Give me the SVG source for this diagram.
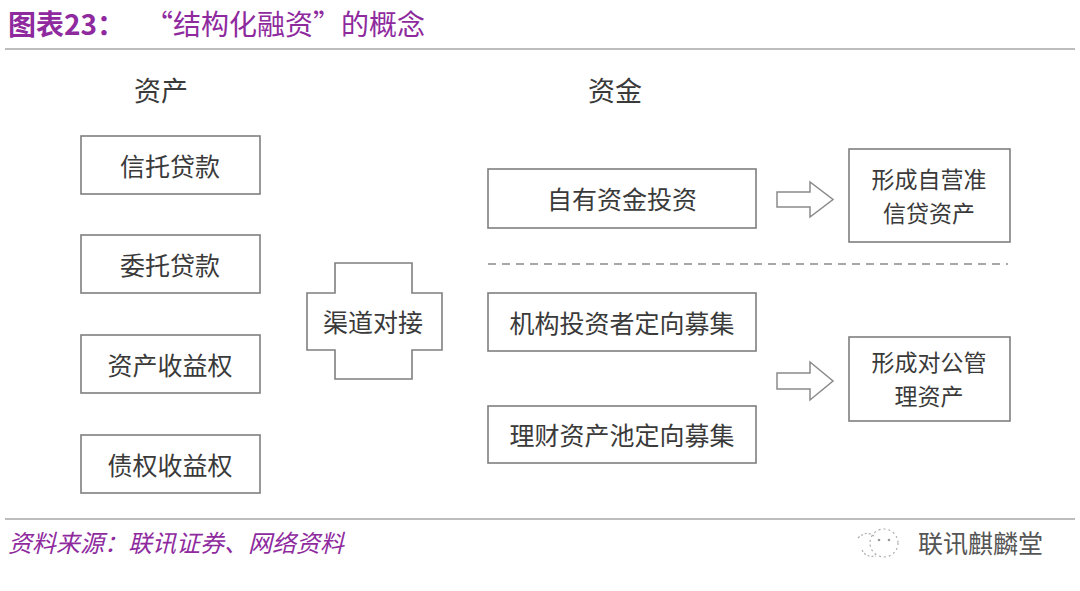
<svg xmlns="http://www.w3.org/2000/svg" width="1080" height="591" viewBox="0 0 1080 591">
<style>
.t{font-family:"Noto Sans CJK SC","Liberation Sans",sans-serif;fill:#3a3a3a;}
.box{fill:#fff;stroke:#7f7f7f;stroke-width:1.6;}
.lbl{font-size:25px;text-anchor:middle;dominant-baseline:central;}
.lbl2{font-size:23px;text-anchor:middle;}
.head{font-size:27px;text-anchor:middle;dominant-baseline:central;}
.ttl{font-family:"Noto Sans CJK SC","Liberation Sans",sans-serif;fill:#8e2a9e;font-size:28px;}
.arr{fill:#fff;stroke:#8a8a8a;stroke-width:1.5;stroke-linejoin:miter;}
</style>
<rect width="1080" height="591" fill="#fff"/>
<text class="ttl" x="8" y="35"><tspan font-weight="bold">图表23：</tspan><tspan x="145">“结构化融资”的概念</tspan></text>
<line x1="5" y1="49" x2="1075" y2="49" stroke="#bdbdbd" stroke-width="2"/>

<text class="t head" x="161" y="89">资产</text>
<text class="t head" x="615" y="89">资金</text>

<g id="n-xintuo"><rect class="box" x="81" y="136" width="179" height="58"/><text class="t lbl" x="170" y="165">信托贷款</text></g>
<g id="n-weituo"><rect class="box" x="81" y="235" width="179" height="58"/><text class="t lbl" x="170" y="264">委托贷款</text></g>
<g id="n-zichan"><rect class="box" x="81" y="335" width="179" height="58"/><text class="t lbl" x="170" y="364">资产收益权</text></g>
<g id="n-zhaiquan"><rect class="box" x="81" y="435" width="179" height="58"/><text class="t lbl" x="170" y="464">债权收益权</text></g>

<g id="n-qudao">
<path class="box" d="M335,263 H412 V293 H442 V350 H412 V379 H335 V350 H307 V293 H335 Z"/>
<text class="t lbl" x="373" y="321">渠道对接</text>
</g>

<g id="n-ziyou"><rect class="box" x="488" y="169" width="268" height="59"/><text class="t lbl" x="622" y="198">自有资金投资</text></g>
<g id="n-jigou"><rect class="box" x="488" y="293" width="268" height="58"/><text class="t lbl" x="622" y="322">机构投资者定向募集</text></g>
<g id="n-licai"><rect class="box" x="488" y="406" width="268" height="57"/><text class="t lbl" x="622" y="434">理财资产池定向募集</text></g>

<g id="n-ziying"><rect class="box" x="849" y="149" width="161" height="93"/><text class="t lbl2" x="929" y="188"><tspan x="929">形成自营准</tspan><tspan x="929" dy="33.5">信贷资产</tspan></text></g>
<g id="n-duigong"><rect class="box" x="849" y="337" width="161" height="84"/><text class="t lbl2" x="929" y="371"><tspan x="929">形成对公管</tspan><tspan x="929" dy="33.5">理资产</tspan></text></g>

<g id="connectors">
<path class="arr" d="M777,192 H810 V182 L833,199.5 L810,217 V207 H777 Z"/>
<path class="arr" d="M777,373 H810 V362 L833,381 L810,400 V389 H777 Z"/>
<line x1="488" y1="264" x2="1008" y2="264" stroke="#8a8a8a" stroke-width="1.5" stroke-dasharray="8,6"/>
</g>

<line x1="5" y1="519" x2="1075" y2="519" stroke="#bdbdbd" stroke-width="2"/>
<text x="8" y="552" font-family="Noto Sans CJK SC,Liberation Sans,sans-serif" font-size="24" font-style="italic" fill="#8e2a9e">资料来源：联讯证券、网络资料</text>

<g id="watermark">
<path d="M858,538 Q866,530 874,536" fill="none" stroke="#aaa" stroke-width="1.2" stroke-dasharray="2,2"/>
<path d="M862,550 Q866,558 876,556" fill="none" stroke="#aaa" stroke-width="1.2" stroke-dasharray="2,2"/>
<circle cx="884" cy="543" r="14" fill="none" stroke="#aaa" stroke-width="1.2" stroke-dasharray="2,3"/>
<circle cx="879" cy="540" r="1.3" fill="#999"/>
<circle cx="889" cy="540" r="1.3" fill="#999"/>
<text x="918" y="553" font-family="Noto Sans CJK SC,Liberation Sans,sans-serif" font-size="25" fill="#555">联讯麒麟堂</text>
</g>
</svg>
